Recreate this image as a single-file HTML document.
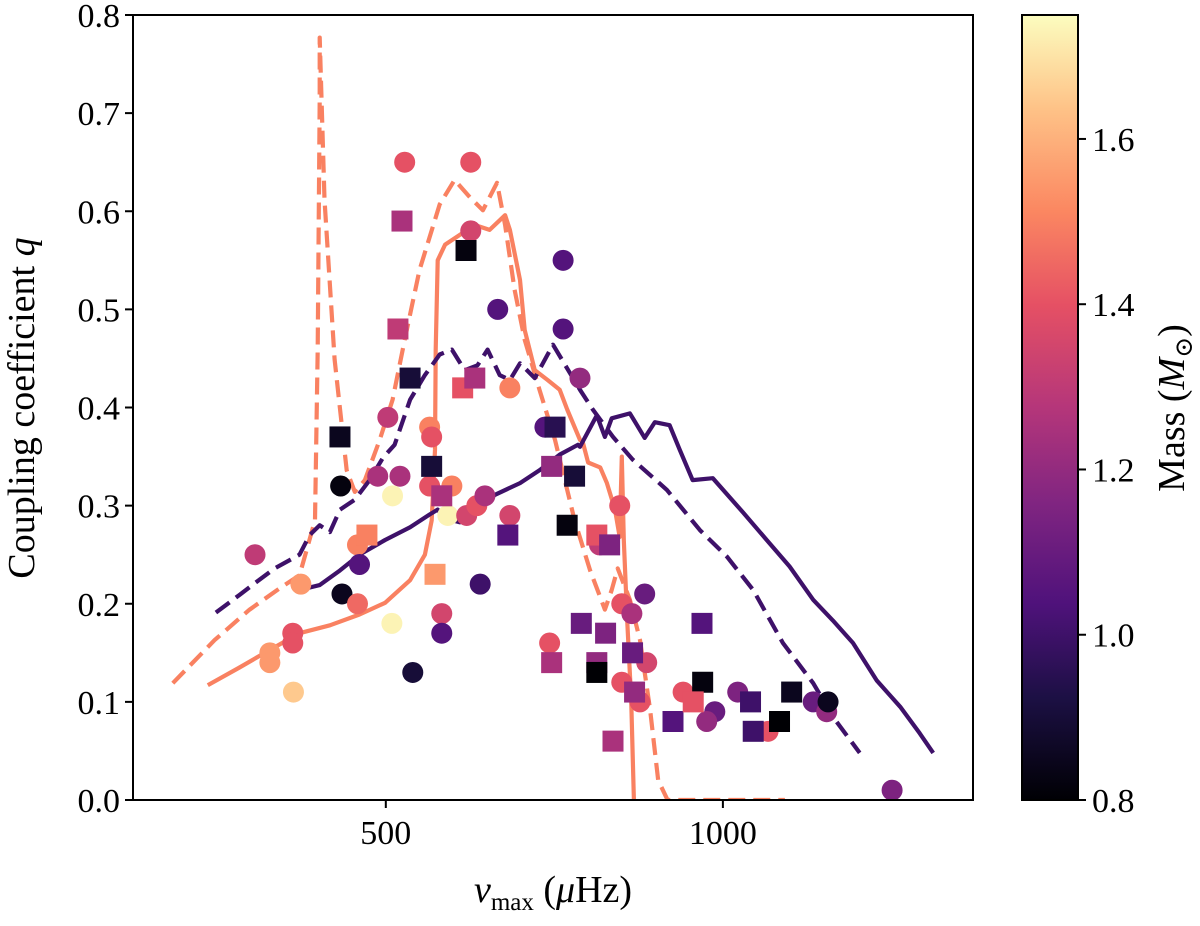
<!DOCTYPE html>
<html><head><meta charset="utf-8"><style>
body{margin:0;background:#fff;}
svg text{font-family:"Liberation Serif","DejaVu Serif",serif;fill:#000;}
</style></head><body>
<svg id="chart" width="1200" height="921" viewBox="0 0 1200 921" xmlns="http://www.w3.org/2000/svg">
<defs>
<linearGradient id="cmap" x1="0" y1="1" x2="0" y2="0">
<stop offset="0" stop-color="#000004"/><stop offset="0.13" stop-color="#1c1044"/><stop offset="0.25" stop-color="#4f127b"/><stop offset="0.38" stop-color="#812581"/><stop offset="0.5" stop-color="#b5367a"/><stop offset="0.63" stop-color="#e55064"/><stop offset="0.75" stop-color="#fb8761"/><stop offset="0.88" stop-color="#fec287"/><stop offset="1" stop-color="#fcfdbf"/>
</linearGradient>
<clipPath id="pclip"><rect x="133" y="15" width="840" height="785"/></clipPath>
</defs>
<g id="lines" clip-path="url(#pclip)"></g>
<g id="marks" clip-path="url(#pclip)"></g>
<rect x="133" y="15" width="840" height="785" fill="none" stroke="#000" stroke-width="2"/>
<g id="axes"></g>
<text transform="translate(34,408) rotate(-90)" text-anchor="middle" font-size="38">Coupling coefficient <tspan font-style="italic">q</tspan></text>
<text x="553" y="902" text-anchor="middle" font-size="38"><tspan font-style="italic">ν</tspan><tspan font-size="25" dy="8">max</tspan><tspan dy="-8"> (</tspan><tspan font-style="italic">μ</tspan>Hz)</text>
<rect x="1022" y="15" width="56" height="785" fill="url(#cmap)" stroke="#000" stroke-width="2"/>
<g id="cbar"></g>
<text transform="translate(1184,408) rotate(-90)" text-anchor="middle" font-size="38">Mass (<tspan font-style="italic">M</tspan><tspan font-size="25" dy="8">⊙</tspan><tspan dy="-8">)</tspan></text>
</svg>
<script>
const xTicks=[500,1000];
const yTicks=[0.0,0.1,0.2,0.3,0.4,0.5,0.6,0.7,0.8];
const cTicks=[0.8,1.0,1.2,1.4,1.6];
// circles: nu, q, mass
const circNu=[306,328,328,362,362,363,374,435,433,458,461,458,503,488,521,510,509,666,565,568,565,598,592,620,635,647,684,684,640,583,583,540,743,736,528,626,626,763,763,788,847,817,884,850,865,887,850,877,941,988,976,1022,1067,1134,1154,1156,1251];
const circQ=[0.25,0.15,0.14,0.17,0.16,0.11,0.22,0.21,0.32,0.26,0.24,0.20,0.39,0.33,0.33,0.31,0.18,0.50,0.38,0.37,0.32,0.32,0.29,0.29,0.30,0.31,0.29,0.42,0.22,0.19,0.17,0.13,0.16,0.38,0.65,0.65,0.58,0.55,0.48,0.43,0.30,0.26,0.21,0.20,0.19,0.14,0.12,0.10,0.11,0.09,0.08,0.11,0.07,0.10,0.09,0.10,0.01];
const circM=[1.3,1.55,1.55,1.4,1.4,1.65,1.55,0.85,0.82,1.5,1.05,1.45,1.3,1.25,1.25,1.73,1.73,1.05,1.5,1.4,1.4,1.5,1.73,1.35,1.4,1.25,1.35,1.5,1.0,1.35,1.05,0.9,1.4,1.05,1.4,1.4,1.35,1.05,1.05,1.2,1.4,1.3,1.1,1.4,1.25,1.35,1.4,1.4,1.4,1.1,1.2,1.15,1.4,1.1,1.2,0.85,1.15];
// squares: nu, q, mass
const sqNu=[432,536,518,524,568,583,472,573,614,632,619,746,751,681,769,746,780,813,832,790,826,813,813,866,869,837,969,926,970,956,1041,1045,1084,1102];
const sqQ=[0.37,0.43,0.48,0.59,0.34,0.31,0.27,0.23,0.42,0.43,0.56,0.34,0.38,0.27,0.28,0.14,0.33,0.27,0.26,0.18,0.17,0.14,0.13,0.15,0.11,0.06,0.18,0.08,0.12,0.10,0.10,0.07,0.08,0.11];
const sqM=[0.85,0.9,1.3,1.25,0.9,1.25,1.5,1.55,1.4,1.25,0.82,1.2,0.95,1.05,0.82,1.25,0.9,1.4,1.15,1.1,1.15,1.2,0.8,1.1,1.2,1.25,1.05,1.05,0.82,1.4,1.0,1.0,0.8,0.85];
// model tracks
const orangeDashNu=[184,246,298,343,372,395,399,402,402,409,424,442,454,469,491,510,528,550,580,602,625,644,665,677,691,706,728,751,780,803,825,835,844,862,877,892,904,918,1092];
const orangeDashQ=[0.119,0.163,0.194,0.216,0.229,0.285,0.459,0.714,0.777,0.612,0.449,0.336,0.314,0.326,0.367,0.408,0.469,0.540,0.607,0.632,0.614,0.601,0.629,0.586,0.520,0.469,0.418,0.367,0.285,0.234,0.194,0.214,0.236,0.204,0.163,0.092,0.020,0,0];
const orangeSolidNu=[236,283,328,372,417,461,499,536,558,568,573,574,577,588,610,632,654,677,684,699,706,721,740,758,769,788,792,800,818,828,840,847,850,853,858,864,868];
const orangeSolidQ=[0.117,0.135,0.153,0.170,0.178,0.189,0.201,0.224,0.250,0.285,0.357,0.459,0.550,0.566,0.576,0.586,0.581,0.596,0.581,0.530,0.479,0.438,0.428,0.418,0.398,0.367,0.365,0.344,0.339,0.323,0.296,0.268,0.350,0.265,0.183,0.102,0];
const purpleDashNu=[248,283,306,335,372,387,402,417,432,454,476,496,513,536,558,580,598,617,636,651,669,684,699,721,748,768,788,807,837,866,917,966,1006,1045,1089,1134,1163,1203];
const purpleDashQ=[0.191,0.209,0.221,0.236,0.250,0.270,0.280,0.273,0.296,0.306,0.326,0.349,0.362,0.408,0.433,0.454,0.459,0.438,0.443,0.459,0.433,0.428,0.445,0.430,0.464,0.441,0.418,0.398,0.370,0.347,0.316,0.275,0.248,0.214,0.160,0.119,0.085,0.048];
const purpleSolidNu=[372,402,432,461,499,536,565,577,588,610,632,662,699,728,758,785,788,813,825,835,862,884,899,921,936,955,985,1030,1065,1099,1134,1163,1193,1228,1263,1292,1312];
const purpleSolidQ=[0.214,0.219,0.234,0.250,0.265,0.278,0.291,0.296,0.287,0.283,0.296,0.311,0.323,0.336,0.352,0.362,0.360,0.392,0.370,0.389,0.394,0.369,0.385,0.382,0.357,0.326,0.328,0.293,0.265,0.238,0.204,0.183,0.160,0.122,0.095,0.068,0.048];
const trackMass=[1.5,1.5,1.0,1.0];

const NS='http://www.w3.org/2000/svg';
const X0=133,X1=973,Y0=15,Y1=800,XMIN=125,XMAX=1371,YMIN=0,YMAX=0.8,CMIN=0.8,CMAX=1.75;
function xs(v){return X0+(v-XMIN)/(XMAX-XMIN)*(X1-X0);}
function ys(q){return Y1-(q-YMIN)/(YMAX-YMIN)*(Y1-Y0);}
function cs(m){return Y1-(m-CMIN)/(CMAX-CMIN)*(Y1-Y0);}
const stops=[[0,[0,0,4]],[0.13,[28,16,68]],[0.25,[79,18,123]],[0.38,[129,37,129]],[0.5,[181,54,122]],[0.63,[229,80,100]],[0.75,[251,135,97]],[0.88,[254,194,135]],[1,[252,253,191]]];
function cmap(m){let t=Math.max(0,Math.min(1,(m-CMIN)/(CMAX-CMIN)));for(let i=1;i<stops.length;i++){if(t<=stops[i][0]){const a=stops[i-1],b=stops[i],f=(t-a[0])/(b[0]-a[0]);const c=a[1].map((v,k)=>Math.round(v+(b[1][k]-v)*f));return 'rgb('+c.join(',')+')';}}return 'rgb(252,253,191)';}
function mk(tag,attrs,parent){const e=document.createElementNS(NS,tag);for(const k in attrs)e.setAttribute(k,attrs[k]);parent.appendChild(e);return e;}
const axes=document.getElementById('axes');
xTicks.forEach(v=>{
  const t=mk('line',{x1:xs(v),x2:xs(v),y1:Y1,y2:Y1+8,stroke:'#000','stroke-width':2},axes);
  
  
  const l=mk('text',{x:xs(v),y:Y1+44,'text-anchor':'middle','font-size':34},axes);l.textContent=v;
  
  
});
yTicks.forEach(q=>{
  const t=mk('line',{x1:X0-8,x2:X0,y1:ys(q),y2:ys(q),stroke:'#000','stroke-width':2},axes);
  
  
  const l=mk('text',{x:X0-13,y:ys(q)+12,'text-anchor':'end','font-size':34},axes);l.textContent=q.toFixed(1);
  
  
});
const cb=document.getElementById('cbar');
cTicks.forEach(m=>{
  const t=mk('line',{x1:1078,x2:1086,y1:cs(m),y2:cs(m),stroke:'#000','stroke-width':2},cb);
  
  
  const l=mk('text',{x:1092,y:cs(m)+12,'font-size':34},cb);l.textContent=m.toFixed(1);
  
  
});
const lg=document.getElementById('lines');
const tracks=[[orangeDashNu,orangeDashQ,true,'orange-dashed-track'],[orangeSolidNu,orangeSolidQ,false,'orange-solid-track'],[purpleDashNu,purpleDashQ,true,'purple-dashed-track'],[purpleSolidNu,purpleSolidQ,false,'purple-solid-track']];
tracks.forEach((tr,i)=>{
  const d=tr[0].map((v,k)=>(k?'L':'M')+xs(v).toFixed(1)+' '+ys(tr[1][k]).toFixed(1)).join(' ');
  const a={d:d,fill:'none',stroke:cmap(trackMass[i]),'stroke-width':4.2,'stroke-linejoin':'round'};
  if(tr[2])a['stroke-dasharray']='17 8';
  const p=mk('path',a,lg);
  
  
});
const mg=document.getElementById('marks');
circNu.forEach((v,i)=>{
  const c=mk('circle',{cx:xs(v),cy:ys(circQ[i]),r:10.5,fill:cmap(circM[i])},mg);
  
  
});
sqNu.forEach((v,i)=>{
  const r=mk('rect',{x:xs(v)-10.5,y:ys(sqQ[i])-10.5,width:21,height:21,fill:cmap(sqM[i])},mg);
  
  
});
</script>
</body></html>
